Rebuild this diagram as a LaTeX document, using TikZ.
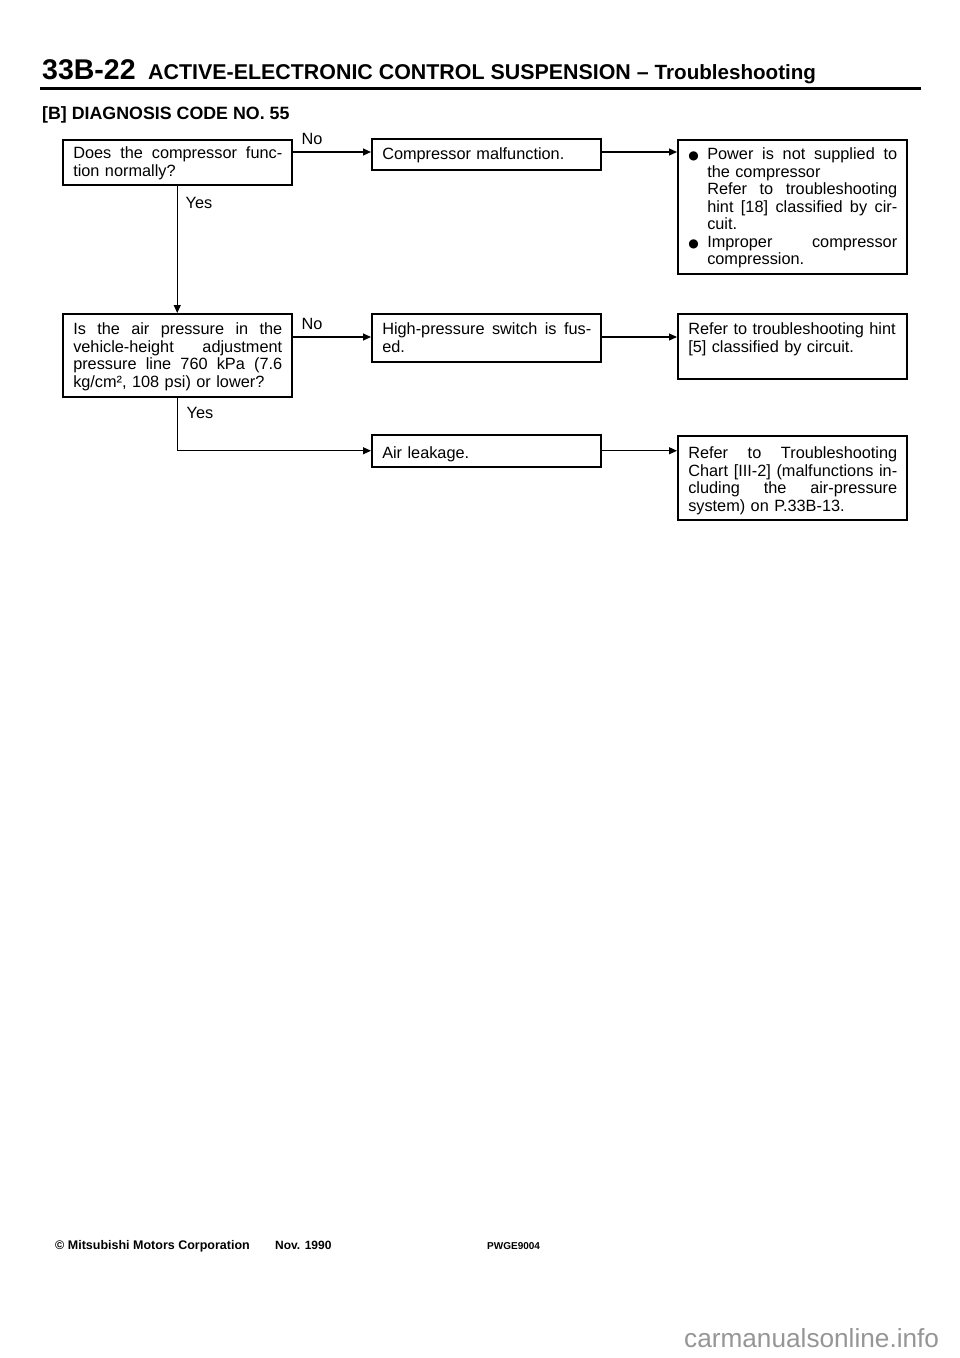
\documentclass[tikz,border=0pt]{standalone}
\usepackage{fontspec}
\setmainfont{Liberation Sans}
\newfontfamily\dejavu{DejaVu Sans}
\usetikzlibrary{arrows.meta,calc}
\definecolor{wmgray}{RGB}{150,150,150}
\newcommand{\myJ}[1]{\makebox[209pt][s]{\spaceskip=.278em plus 1fil\xspaceskip=\spaceskip #1}}
\newcommand{\mybul}{\makebox[19pt][l]{{\dejavu\fontsize{12}{12}\selectfont ●}}}
\newcommand{\myBL}[1]{\mybul\makebox[190pt][s]{\spaceskip=.278em plus 1fil\xspaceskip=\spaceskip #1}}
\newcommand{\myIJ}[1]{\hspace*{19pt}\makebox[190pt][s]{\spaceskip=.278em plus 1fil\xspaceskip=\spaceskip #1}}
\newcommand{\myIN}[1]{\hspace*{19pt}#1}
\newcommand{\myTS}[1]{\rule{0pt}{#1pt}}
\newcommand{\myBS}[1]{\rule[-#1pt]{0pt}{#1pt}}
\begin{document}
\begin{tikzpicture}[x=1pt,y=-1pt,
 frame/.style={draw, line width=1.5pt, anchor=north west, inner xsep=10.5pt, inner ysep=0pt,
   text width=208pt, align=left, font=\fontsize{16.3}{17.5}\selectfont},
 lbl/.style={anchor=base, font=\fontsize{16.3}{17.5}\selectfont, inner sep=0pt},
 hdr/.style={anchor=base west, inner sep=0pt},
 arr/.style={line width=1.1pt, -{Triangle[length=8pt,width=7pt]}}]

\fill[white] (0,0) rectangle (960,1358);

% header
\node[hdr, font=\bfseries\fontsize{28.5}{28}\selectfont] (pg) at (42,79) {33B-22};
\node[hdr, font=\bfseries\fontsize{21.4}{21}\selectfont] (ttl) at (148,79)
  {ACTIVE-ELECTRONIC CONTROL SUSPENSION – {\fontsize{20.6}{20}\selectfont Troubleshooting}};
\draw[line width=3pt] (40,88) -- (921,88);
\node[hdr, font=\bfseries\fontsize{17.8}{17}\selectfont] (sec) at (42,119) {[B] DIAGNOSIS CODE NO. 55};

% boxes
\node[frame] (q1) at (62,139) {\myTS{19}\myJ{Does the compressor func-}\\tion normally?\myBS{8.5}};
\node[frame] (c1) at (371,138) {\myTS{21}Compressor malfunction.\myBS{10}};
\node[frame] (r1) at (677,139) {\myTS{20}\myBL{Power is not supplied to}\\\myIN{the compressor}\\\myIJ{Refer to troubleshooting}\\\myIJ{hint [18] classified by cir-}\\\myIN{cuit.}\\\myBL{Improper compressor}\\\myIN{compression.}\myBS{9}};

\node[frame] (q2) at (62,313) {\myTS{21}\myJ{Is the air pressure in the}\\\myJ{vehicle-height adjustment}\\\myJ{pressure line 760 kPa (7.6}\\kg/cm², 108 psi) or lower?\myBS{9.5}};
\node[frame] (h1) at (371,313) {\myTS{21}\myJ{High-pressure switch is fus-}\\ed.\myBS{9.5}};
\node[frame] (r2) at (677,313) {\myTS{21}Refer to troubleshooting hint\\{}[5] classified by circuit.\myBS{26.5}};

\node[frame] (a1) at (371,434) {\myTS{24}Air leakage.\myBS{8}};
\node[frame] (r3) at (677,435) {\myTS{23}\myJ{Refer to Troubleshooting}\\\myJ{Chart [III-2] (malfunctions in-}\\\myJ{cluding the air-pressure}\\system) on P.33B-13.\myBS{8.5}};

% connectors
\draw[arr] ([yshift=-13pt]q1.north east) coordinate (n1s) -- (n1s -| c1.west);
\draw[arr] ([yshift=-14pt]c1.north east) coordinate (n2s) -- (n2s -| r1.west);
\draw[arr] (q1.south) -- (q2.north);
\draw[arr] ([yshift=-24pt]q2.north east) coordinate (n3s) -- (n3s -| h1.west);
\draw[arr] ([yshift=-24pt]h1.north east) coordinate (n4s) -- (n4s -| r2.west);
\draw[arr] (q2.south) |- (a1.west);
\draw[arr] (a1.east) -- (a1.east -| r3.west);

% labels
\node[lbl] (no1) at (312,144) {No};
\node[lbl] (no2) at (312,329) {No};
\node[lbl] (yes1) at (199,208) {Yes};
\node[lbl] (yes2) at (200,418) {Yes};

% footer
\node[hdr, font=\bfseries\fontsize{12.5}{12}\selectfont] (cp) at (55,1249) {© Mitsubishi Motors Corporation};
\node[hdr, font=\bfseries\fontsize{12}{12}\selectfont] (dt) at (275,1249) {Nov. 1990};
\node[hdr, font=\bfseries\fontsize{10}{10}\selectfont] (code) at (487,1249) {PWGE9004};
\node[hdr, text=wmgray, font=\fontsize{26.2}{26}\selectfont] (wm) at (684,1347) {carmanualsonline.info};
\end{tikzpicture}
\end{document}
